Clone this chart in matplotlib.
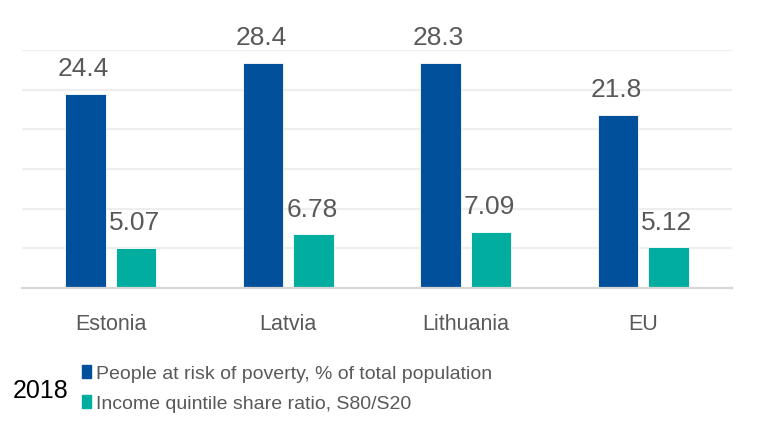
import matplotlib
matplotlib.use("Agg")
import matplotlib.pyplot as plt
from matplotlib.patches import Rectangle
import numpy as np

countries = ["Estonia", "Latvia", "Lithuania", "EU"]
poverty = [24.4, 28.4, 28.3, 21.8]
s80s20 = [5.07, 6.78, 7.09, 5.12]
labels_poverty = ["24.4", "28.4", "28.3", "21.8"]
labels_ratio = ["5.07", "6.78", "7.09", "5.12"]
legend_labels = ["People at risk of poverty, % of total population",
                 "Income quintile share ratio, S80/S20"]
year = "2018"

BLUE = "#00509b"
TEAL = "#00ad9e"
GREY = "#595959"
FONT = ["Liberation Sans Narrow", "Liberation Sans", "DejaVu Sans"]

W, H = 757, 425
fig = plt.figure(figsize=(W / 100, H / 100), dpi=100)
ax = fig.add_axes([22 / W, 1 - 288 / H, 710 / W, 238 / H])

x = np.arange(len(countries))
bw, off = 0.228, 0.142
ax.bar(x - off, poverty, bw, color=BLUE, edgecolor="white", linewidth=0.6, zorder=3)
ax.bar(x + off, s80s20, bw, color=TEAL, edgecolor="white", linewidth=0.6, zorder=3)

for xi, v, t in zip(x, poverty, labels_poverty):
    ax.annotate(t, (xi - off, v), xytext=(-1.5, 13), textcoords="offset points",
                ha="center", va="baseline", fontsize=19, color=GREY,
                family="Liberation Sans", annotation_clip=False)
for xi, v, t in zip(x, s80s20, labels_ratio):
    ax.annotate(t, (xi + off, v), xytext=(-1, 12.5), textcoords="offset points",
                ha="center", va="baseline", fontsize=19, color=GREY,
                family="Liberation Sans", annotation_clip=False)

ax.set_xlim(-0.5, len(countries) - 0.5)
ax.set_ylim(0, 30)
ax.set_yticks(np.arange(5, 31, 5))
ax.yaxis.grid(True, color="#eeeeee", linewidth=1.6, zorder=0)
ax.tick_params(axis="y", left=False, labelleft=False)
ax.set_xticks(x)
ax.set_xticklabels(countries, fontsize=15.5, color=GREY, family=FONT)
ax.tick_params(axis="x", length=0, pad=19)
for s in ["top", "left", "right"]:
    ax.spines[s].set_visible(False)
ax.spines["bottom"].set_color("#d6d6d6")
ax.spines["bottom"].set_linewidth(1.6)
ax.spines["bottom"].set_zorder(4)

# legend, drawn by hand to match the layout
for i, (lab, col) in enumerate(zip(legend_labels, [BLUE, TEAL])):
    top = 365 + 30 * i
    fig.patches.append(Rectangle((81.7 / W, 1 - (top + 13) / H), 9 / W, 13 / H,
                                 transform=fig.transFigure, color=col))
    fig.text(96.5 / W, 1 - (379 + 30 * i) / H, lab, fontsize=14, color=GREY,
             family=FONT, va="baseline", ha="left")
fig.text(13 / W, 1 - 398.5 / H, year, fontsize=18, color="black",
         family=FONT, va="baseline", ha="left")

fig.savefig("out.png", dpi=100)
